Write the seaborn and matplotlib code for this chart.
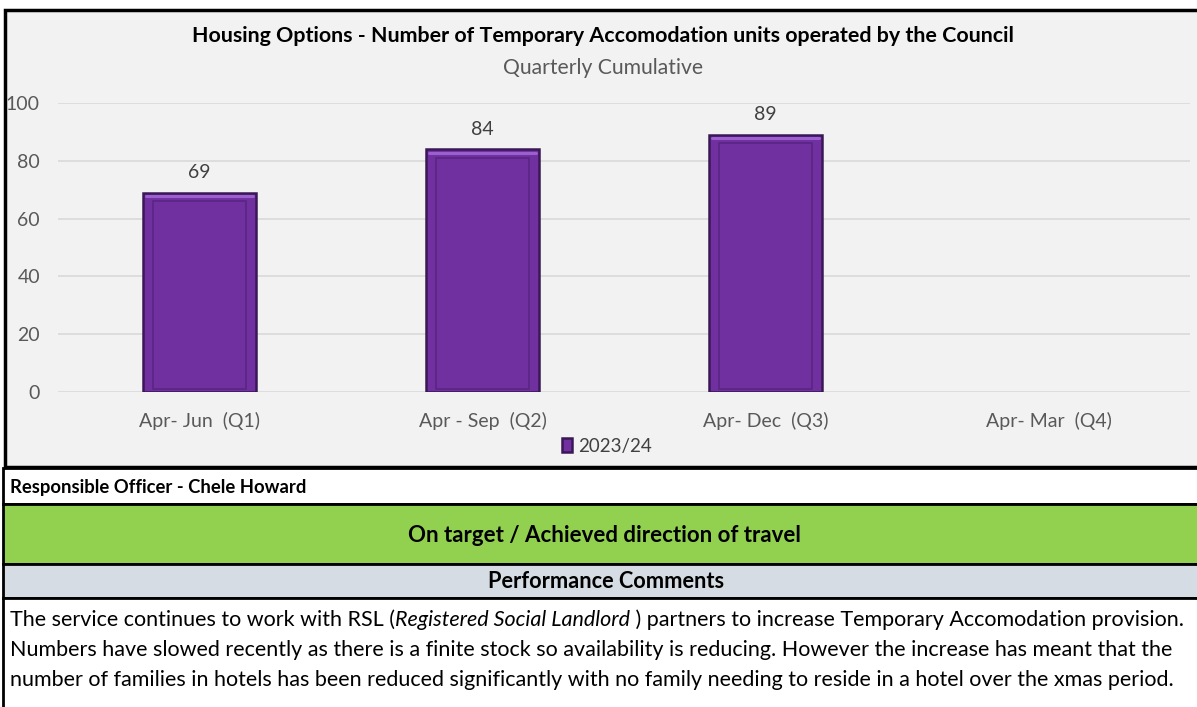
import numpy as np
import pandas as pd
import matplotlib
matplotlib.use("Agg")
import matplotlib.pyplot as plt
import seaborn as sns
from matplotlib.patches import Rectangle

sns.set_style("white")
plt.rcParams["font.family"] = ["Lato", "DejaVu Sans"]

# data
quarters = ["Apr- Jun  (Q1)", "Apr - Sep  (Q2)", "Apr- Dec  (Q3)", "Apr- Mar  (Q4)"]
units = [69, 84, 89, np.nan]
series_name = "2023/24"
title = "Housing Options - Number of Temporary Accomodation units operated by the Council"
subtitle = "Quarterly Cumulative"
officer = "Responsible Officer - Chele Howard"
status = "On target / Achieved direction of travel"
comments_head = "Performance Comments"
comment_lines = [
    ["The service continues to work with RSL (", "Registered Social Landlord", " ) partners to increase Temporary Accomodation provision."],
    ["Numbers have slowed recently as there is a finite stock so availability is reducing. However the increase has meant that the"],
    ["number of families in hotels has been reduced significantly with no family needing to reside in a hotel over the xmas period."],
]

W, H = 1197, 707
fig = plt.figure(figsize=(W / 100, H / 100), dpi=100)
fig.patch.set_facecolor("white")

# background / table layer in pixel coordinates
bg = fig.add_axes([0, 0, 1, 1], zorder=0)
bg.set_xlim(0, W)
bg.set_ylim(H, 0)
bg.axis("off")

bg.add_patch(Rectangle((5, 10), W, 457, facecolor="#f2f2f2", edgecolor="black", lw=2.5))
bg.add_patch(Rectangle((3, 468), W, 36, facecolor="white", edgecolor="black", lw=2))
bg.add_patch(Rectangle((3, 504), W, 60, facecolor="#92d050", edgecolor="black", lw=2))
bg.add_patch(Rectangle((3, 564), W, 34, facecolor="#d6dce4", edgecolor="black", lw=2))
bg.add_patch(Rectangle((3, 598), W, 120, facecolor="white", edgecolor="black", lw=2))

bg.text(603, 36, title, ha="center", va="center", fontsize=15.4, fontweight="bold", color="black")
bg.text(603, 68, subtitle, ha="center", va="center", fontsize=15.2, color="#595959")
bg.text(10, 487, officer, ha="left", va="center", fontsize=13.3, fontweight="bold", color="black")
bg.text(604, 536, status, ha="center", va="center", fontsize=16, fontweight="bold", color="black")
bg.text(606, 582, comments_head, ha="center", va="center", fontsize=15.7, fontweight="bold", color="black")

renderer = fig.canvas.get_renderer()
for i, parts in enumerate(comment_lines):
    x = 10
    y = 620 + 30 * i
    for j, part in enumerate(parts):
        style = "italic" if (len(parts) > 1 and j == 1) else "normal"
        t = bg.text(x, y, part, ha="left", va="center", fontsize=15.5, fontstyle=style, color="black")
        bb = t.get_window_extent(renderer=renderer)
        x += bb.width

# chart
ax = fig.add_axes([58 / W, (H - 392) / H, 1132 / W, 289 / H], zorder=1)
ax.set_facecolor("none")
df = pd.DataFrame({"quarter": quarters, "units": units})
sns.barplot(data=df, x="quarter", y="units", order=quarters, color="#7030a0",
            width=0.4, errorbar=None, saturation=1, edgecolor="#3a1856",
            linewidth=1.8, label=series_name, ax=ax)

for p in list(ax.patches):
    h = p.get_height()
    if not np.isfinite(h) or h == 0:
        continue
    x0, w = p.get_x(), p.get_width()
    ax.add_patch(Rectangle((x0 + w * 0.09, 1.2), w * 0.82, h - 4.2, facecolor="none",
                           edgecolor="#5a2682", lw=1.2, zorder=3))
    ax.plot([x0 + w * 0.03, x0 + w * 0.97], [h - 1.2, h - 1.2], color="#9b5fcf", lw=2.2, zorder=3)
    ax.text(x0 + w / 2, h + 4, f"{int(h)}", ha="center", va="bottom", fontsize=14, color="#404040")

ax.set_ylim(0, 100)
ax.set_xlim(-0.5, 3.5)
ax.set_yticks([0, 20, 40, 60, 80, 100])
ax.yaxis.grid(True, color="#d9d9d9", lw=1.2)
ax.set_axisbelow(True)
sns.despine(ax=ax, left=True, bottom=True)
ax.tick_params(axis="y", length=0, pad=13, labelsize=14, labelcolor="#595959")
ax.tick_params(axis="x", length=0, pad=14, labelsize=14, labelcolor="#595959")
ax.set_xlabel("")
ax.set_ylabel("")

ax.legend(loc="upper center", bbox_to_anchor=(0.485, -0.10), frameon=False,
          handlelength=0.55, handleheight=0.75, handletextpad=0.3, fontsize=13.5,
          labelcolor="#404040")

fig.savefig("out.png", dpi=100, facecolor="white")
